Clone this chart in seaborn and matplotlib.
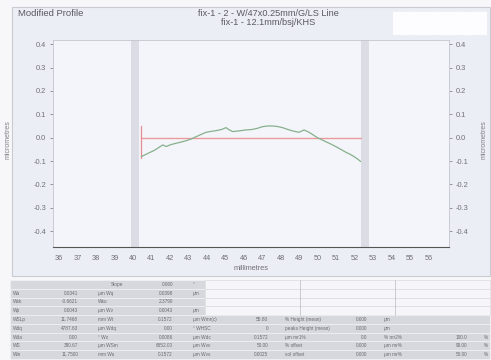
import matplotlib
matplotlib.use("Agg")
import matplotlib.pyplot as plt
import seaborn as sns
import pandas as pd
from matplotlib.patches import Rectangle
from matplotlib.lines import Line2D

# ---------------- data ----------------
profile_x = [40.46, 40.70, 40.90, 41.15, 41.35, 41.62, 41.80, 42.05, 42.34, 42.60,
             42.88, 43.15, 43.42, 43.70, 43.96, 44.25, 44.50, 44.80, 45.04, 45.20,
             45.40, 45.75, 46.12, 46.45, 46.74, 47.01, 47.30, 47.55, 47.80, 48.09,
             48.35, 48.63, 48.99, 49.26, 49.53, 49.75, 49.98, 50.20, 50.43, 50.70,
             50.97, 51.25, 51.51, 51.75, 51.96, 52.15, 52.32]
profile_y = [-0.081, -0.072, -0.064, -0.055, -0.045, -0.031, -0.038, -0.030, -0.024, -0.019,
             -0.013, -0.006, 0.004, 0.014, 0.023, 0.027, 0.030, 0.035, 0.043, 0.034,
             0.026, 0.029, 0.033, 0.035, 0.040, 0.047, 0.050, 0.050, 0.048, 0.043,
             0.036, 0.029, 0.023, 0.033, 0.023, 0.012, 0.0, -0.008, -0.017, -0.027,
             -0.038, -0.050, -0.062, -0.071, -0.081, -0.091, -0.102]
ref_x = [40.46, 52.32]
ref_y = [0.0, 0.0]
marker_x = [40.46, 40.46]
marker_y = [-0.085, 0.05]
band_edges = [(39.92, 40.36), (52.32, 52.77)]
x_ticks = list(range(36, 57))
y_ticks = [-0.4, -0.3, -0.2, -0.1, 0.0, 0.1, 0.2, 0.3, 0.4]

title_left = "Modified Profile"
title_center = "fix-1 - 2 - W/47x0.25mm/G/LS Line\nfix-1 - 12.1mm/bsj/KHS"

table_row1 = ["", "", "Slope", "0.060", "°"]
table_row2 = ["Wa", "0.0341", "µm Wq", "0.0398", "µm"]
table_row3 = ["Wsk", "-0.6621", "Wku", "2.3790", ""]
table_row4 = ["Wp", "0.0043", "µm Wv", "0.0043", "µm"]
table_row5 = ["WSLp", "11.7468", "mm Wt", "0.1572", "µm Wmr(c)", "55.80", "% Height (mean)", "0.000", "µm"]
table_row6 = ["Wdq", "4787.63", "µm Wdq", "0.00", "° WHSC", "0", "peaks Height (mean)", "0.000", "µm"]
table_row7 = ["Wda", "0.00", "° Wz", "0.0086", "µm Wdc", "0.1572", "µm mr1%", "0.0", "% mr2%", "100.0", "%"]
table_row8 = ["WS", "390.67", "µm WSm", "6652.00", "µm Wvv", "50.00", "% offset", "0.000", "µm mr%", "90.00", "%"]
table_row9 = ["Wln", "11.7500", "mm Wu", "0.1572", "µm Wvs", "0.0025", "vol offset", "0.000", "µm mr%", "50.00", "%"]
table_rows = [table_row1, table_row2, table_row3, table_row4, table_row5,
              table_row6, table_row7, table_row8, table_row9]

# ---------------- figure ----------------
sns.set_style("white")
plt.rcParams['font.family'] = ['Liberation Sans', 'DejaVu Sans']

W, H = 491, 360
fig = plt.figure(figsize=(W / 100, H / 100), dpi=100)
fig.patch.set_facecolor("#f7f7fa")

def px(x, y):
    return x / W, 1 - y / H

# panel background
x0, y0 = px(12, 276)
fig.add_artist(Rectangle((x0, y0), (490 - 12) / W, (276 - 7) / H, transform=fig.transFigure,
                         facecolor="#eceef5", edgecolor="#c9cbd3", lw=0.8, zorder=0))
# white box top right
x0, y0 = px(392, 35)
fig.add_artist(Rectangle((x0, y0), (487 - 392) / W, (35 - 11) / H, transform=fig.transFigure,
                         facecolor="#fdfdff", edgecolor="#e0e2ea", lw=0.6, ls=":", zorder=1))

fig.text(*px(18, 14), title_left, fontsize=6.8, color="#5a5a60", va="center", ha="left")
fig.text(*px(268, 18), title_center, fontsize=6.6, color="#5a5a60", va="center", ha="center",
         linespacing=1.0)

ax = fig.add_axes([53.3 / W, 1 - 247 / H, (449 - 53.3) / W, (247 - 40) / H])
ax.set_facecolor("#f4f5fa")

for a, b in band_edges:
    ax.axvspan(a, b, color="#dcdde4", lw=0, zorder=1)

df_prof = pd.DataFrame({"x": profile_x, "y": profile_y})
df_ref = pd.DataFrame({"x": ref_x, "y": ref_y})
df_mark = pd.DataFrame({"x": marker_x, "y": marker_y})
sns.lineplot(data=df_ref, x="x", y="y", ax=ax, color="#ec9a9e", lw=1.0, zorder=3)
sns.lineplot(data=df_mark, x="x", y="y", ax=ax, color="#e58a90", lw=0.9, zorder=3,
             sort=False, estimator=None)
sns.lineplot(data=df_prof, x="x", y="y", ax=ax, color="#86b08c", lw=0.9, zorder=4)

ax.set_xlim(35.7, 57.1)
ax.set_ylim(-0.468, 0.418)
ax.set_xticks(x_ticks)
ax.set_yticks(y_ticks)
ax.set_yticklabels([f"{v:.1f}" for v in y_ticks])
ax.tick_params(axis="both", labelsize=5.3, colors="#707076", length=2, width=0.5, pad=3)
ax.tick_params(axis="x", length=0, pad=6)
ax.tick_params(axis="y", left=True, right=True, labelleft=True, labelright=True)
for s in ["left", "right", "top"]:
    ax.spines[s].set_color("#c4c6ce")
    ax.spines[s].set_linewidth(0.6)
ax.spines["bottom"].set_color("#555")
ax.spines["bottom"].set_linewidth(0.8)
ax.set_xlabel("millimetres", fontsize=5.3, color="#707076", labelpad=2)
ax.set_ylabel("")

fig.text(*px(8, 140), "micrometres", fontsize=5.0, color="#808086", rotation=90, va="center", ha="center")
fig.text(*px(484, 140), "micrometres", fontsize=5.0, color="#808086", rotation=90, va="center", ha="center")

# ---------------- table ----------------
t_top, t_bot = 280, 359
t_left, t_right = 10, 490
nrows = len(table_rows)
rh = (t_bot - t_top) / nrows
for i in range(nrows):
    ytop = t_top + i * rh
    if i < 4:
        x0, y0 = px(t_left, ytop + rh)
        fig.add_artist(Rectangle((x0, y0), (205 - t_left) / W, rh / H, transform=fig.transFigure,
                                 facecolor="#d7d8dd", edgecolor="#f2f2f4", lw=0.5, zorder=2))
        x0, y0 = px(205, ytop + rh)
        fig.add_artist(Rectangle((x0, y0), (t_right - 205) / W, rh / H, transform=fig.transFigure,
                                 facecolor="#f6f6f8", edgecolor="#dadbe0", lw=0.5, zorder=2))
    else:
        x0, y0 = px(t_left, ytop + rh)
        fig.add_artist(Rectangle((x0, y0), (t_right - t_left) / W, rh / H, transform=fig.transFigure,
                                 facecolor="#d7d8dd", edgecolor="#f2f2f4", lw=0.5, zorder=2))
for xv in [300, 395]:
    fig.add_artist(Line2D([xv / W, xv / W], [1 - t_top / H, 1 - (t_top + 4 * rh) / H],
                          transform=fig.transFigure, color="#b8b9c0", lw=0.5, zorder=3))

col_pos = [(13, "left"), (78, "right"), (98, "left"), (173, "right"), (193, "left"),
           (268, "right"), (285, "left"), (367, "right"), (384, "left"), (467, "right"),
           (484, "left")]
for i, row in enumerate(table_rows):
    yc = t_top + (i + 0.5) * rh
    for j, txt in enumerate(row):
        if not txt:
            continue
        xp, ha = col_pos[j]
        if i == 0 and j == 2:
            xp, ha = 123, "right"
        fig.text(xp / W, 1 - yc / H, txt, fontsize=3.4, color="#6a6a70", ha=ha, va="center", zorder=5)

fig.savefig("out.png", dpi=100, facecolor=fig.get_facecolor())
